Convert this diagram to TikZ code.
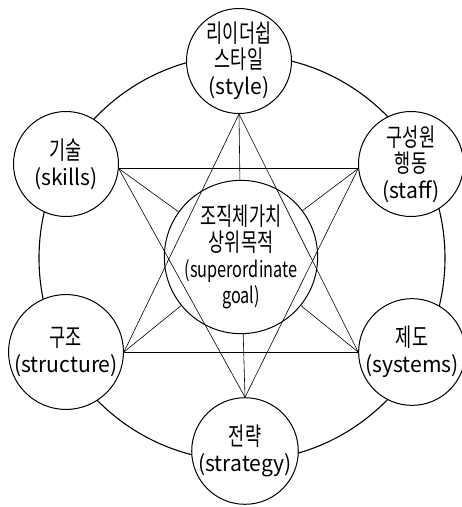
\documentclass[tikz,border=0pt]{standalone}
\usepackage{fontspec}
\setmainfont{Noto Sans CJK KR}[FakeStretch=0.7]
\newfontfamily\latwide{Noto Sans CJK KR}[FakeStretch=0.96]
\newfontfamily\latnarrow{Noto Sans CJK KR}[FakeStretch=0.74]
\newcommand\en[1]{{\latwide\fontsize{22}{26}\selectfont #1}}
\newcommand\enn[1]{{\latnarrow\fontsize{22}{26}\selectfont #1}}
\begin{document}
\begin{tikzpicture}[x=1pt,y=-1pt,
  every node/.style={font=\fontsize{25}{26}\selectfont},
  box/.style={circle, draw, fill=white, line width=1pt, inner sep=0pt, minimum size=105pt, align=center},
  hub/.style={box, minimum size=118pt},
  link/.style={line width=0.6pt},
  ring/.style={line width=1.1pt}]
\useasboundingbox (0,0) rectangle (462,507);
\draw[ring] (242,258) circle[radius=203pt];
\node[box] (style) at (239,61) {리이더쉽\\스타일\\\en{(style)}};
\node[box] (staff) at (411,164) {구성원\\행동\\\en{(staff)}};
\node[box] (systems) at (412,352) {제도\\\en{(systems)}};
\node[box] (strategy) at (245,451) {전략\\\en{(strategy)}};
\node[box] (structure) at (66,352) {구조\\\en{(structure)}};
\node[box] (skills) at (66,164) {기술\\\en{(skills)}};
\node[hub] (hub) at (241,257) {조직체가치\\상위목적\\\enn{(superordinate}\\\enn{goal)}};
% triangle 1
\draw[link] (style.south) -- (structure.east);
\draw[link] (style.south) -- (systems.west);
\draw[link] (structure.east) -- (systems.west);
% triangle 2
\draw[link] (skills.-5) -- (staff.185);
\draw[link] (skills.-5) -- (strategy.north);
\draw[link] (staff.185) -- (strategy.north);
% spokes
\draw[link] (style.south) -- (hub);
\draw[link] (strategy.north) -- (hub);
\draw[link] (skills.-5) -- (hub);
\draw[link] (staff.185) -- (hub);
\draw[link] (structure.east) -- (hub);
\draw[link] (systems.west) -- (hub);
\end{tikzpicture}
\end{document}
